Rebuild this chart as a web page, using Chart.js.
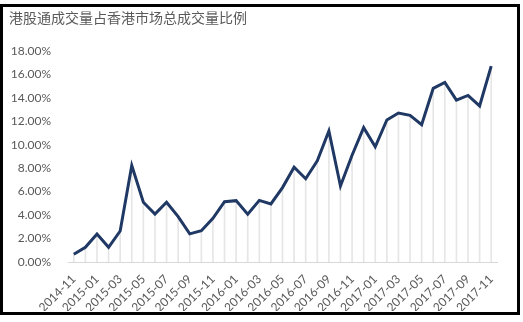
<!DOCTYPE html>
<html>
<head>
<meta charset="utf-8">
<script src="https://cdn.jsdelivr.net/npm/chart.js@4.4.0/dist/chart.umd.min.js"></script>
<style>
  body { margin: 0; background: #fff; }
  #frame {
    position: absolute; left: 0; top: 4px; width: 520px; height: 311px;
    border: 3px solid #000; box-sizing: border-box;
  }
  #wrap { position: absolute; left: 3px; top: 7px; width: 513px; height: 304px; }
</style>
</head>
<body>
<div id="frame"></div>
<div id="wrap"><canvas id="ratio"></canvas></div>
<script>
// 港股通成交量占比 (%)
const months = [
  '2014-11','2014-12','2015-01','2015-02','2015-03','2015-04','2015-05','2015-06','2015-07','2015-08',
  '2015-09','2015-10','2015-11','2015-12','2016-01','2016-02','2016-03','2016-04','2016-05','2016-06',
  '2016-07','2016-08','2016-09','2016-10','2016-11','2016-12','2017-01','2017-02','2017-03','2017-04',
  '2017-05','2017-06','2017-07','2017-08','2017-09','2017-10','2017-11'
];
const ratio = [
  0.66, 1.25, 2.39, 1.25, 2.64, 8.22, 5.09, 4.09, 5.09, 3.87,
  2.40, 2.67, 3.72, 5.14, 5.23, 4.07, 5.25, 4.95, 6.34, 8.08,
  7.10, 8.62, 11.17, 6.48, 9.10, 11.45, 9.82, 12.10, 12.70, 12.50,
  11.70, 14.80, 15.30, 13.80, 14.20, 13.30, 16.70
];
const yMax = 18;
const yStep = 2;

const navy = '#1F3864';
const grey = '#595959';
const dropGrey = '#E6E6E6';
const tickFont = { family: 'Lato, "Open Sans", sans-serif', size: 12 };

var ctx = document.getElementById('ratio');
var myChart = new Chart(ctx, {
  data: {
    labels: months,
    datasets: [
      {
        type: 'line',
        label: '港股通成交量占比',
        data: ratio,
        borderColor: navy,
        borderWidth: 3,
        pointRadius: 0,
        tension: 0,
        order: 0
      },
      {
        // drop lines from each point
        type: 'bar',
        label: 'drop',
        data: ratio,
        backgroundColor: dropGrey,
        barThickness: 1,
        order: 1
      }
    ]
  },
  options: {
    responsive: true,
    maintainAspectRatio: false,
    animation: false,
    layout: { padding: { top: 2, left: 6, right: 19, bottom: 0 } },
    plugins: {
      legend: { display: false },
      tooltip: { enabled: false },
      title: {
        display: true,
        text: '港股通成交量占香港市场总成交量比例',
        align: 'start',
        color: grey,
        font: { family: '"Noto Sans CJK SC", sans-serif', size: 14, weight: 'normal' },
        padding: { top: 0, bottom: 25 }
      }
    },
    scales: {
      x: {
        offset: true,
        grid: { display: false },
        border: { color: '#D9D9D9' },
        afterFit: function (scale) { scale.height = 49; },
        ticks: {
          autoSkip: false,
          maxRotation: 45,
          minRotation: 45,
          color: grey,
          padding: 2,
          font: tickFont,
          callback: function (v, i) { return i % 2 === 0 ? months[i] : ''; }
        }
      },
      y: {
        min: 0,
        max: yMax,
        grid: { display: false },
        border: { display: false },
        afterFit: function (scale) { scale.width = 59; },
        ticks: {
          stepSize: yStep,
          color: grey,
          padding: 9,
          font: tickFont,
          callback: function (v) { return v.toFixed(2) + '%'; }
        }
      }
    }
  }
});
</script>
</body>
</html>
